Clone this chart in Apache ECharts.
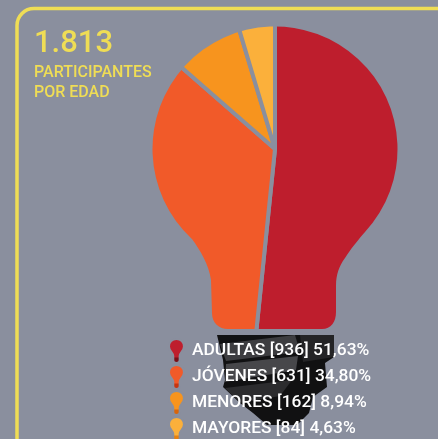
<!DOCTYPE html>
<html><head><meta charset="utf-8">
<style>html,body{margin:0;padding:0;background:#8A8F9E}#c{width:438px;height:439px}</style>
<script src="https://cdn.jsdelivr.net/npm/echarts@6/dist/echarts.min.js"></script>
</head><body><div id="c"></div>
<script>
const categories = ['ADULTAS','JÓVENES','MENORES','MAYORES'];
const counts = [936,631,162,84];
const percents = ['51,63%','34,80%','8,94%','4,63%'];
const colors = ['#BE1E2D','#F15A29','#F7941E','#FBB03B'];
const baseColors = ['#7A0F18','#C8340E','#D9650A','#E8820F'];
const totalLabel = '1.813';
const subtitleLines = ['PARTICIPANTES','POR EDAD'];
const BG = '#8A8F9E', YELLOW = '#EFDD55';
const FONT = 'Roboto';

const chart = echarts.init(document.getElementById('c'), null, {renderer:'canvas'});
const bulbIcon = 'path://M7 0C3 0 0 3 0 7C0 9.5 1.2 11 2.5 12.5C3.6 13.8 4 14.8 4 16L4 20C4 21.8 5.6 22.5 7 22.5C8.4 22.5 10 21.8 10 20L10 16C10 14.8 10.4 13.8 11.5 12.5C12.8 11 14 9.5 14 7C14 3 11 0 7 0Z';
const bulbHole = 'M0 0H438V439H0Z M365 232A122.5 122.5 0 1 0 192 239C200 250 209 265 211 280L212 313C212 323 219 329 228 329L322 329C331 329 336 322 336 312L336 285C336 275 339 266 345 258C350 250 358 240 365 232Z';
const poly = (pts, fill, z) => ({type:'polygon', silent:true, z, shape:{points:pts}, style:{fill}});

chart.setOption({
  animation:false,
  backgroundColor:BG,
  legend:{
    orient:'vertical', left:168, top:338, height:110, padding:0, z:10,
    itemWidth:15, itemHeight:24, itemGap:0, selectedMode:false, icon:bulbIcon,
    data:categories.map((name,i)=>({name, itemStyle:{color:{type:'linear',x:0,y:0,x2:0,y2:1,colorStops:[
      {offset:0,color:colors[i]},{offset:.74,color:colors[i]},{offset:.76,color:baseColors[i]},{offset:1,color:baseColors[i]}]}}})),
    formatter:name=>{const i=categories.indexOf(name);return `${name} [${counts[i]}] ${percents[i]}`;},
    textStyle:{color:'#FFFFFF',fontFamily:FONT,fontWeight:500,fontSize:17.4,lineHeight:18,padding:[0,0,3,3]}
  },
  series:[{
    type:'pie', z:2, center:[275,149], radius:[0,195], startAngle:90, clockwise:true, silent:true,
    label:{show:false}, labelLine:{show:false},
    itemStyle:{borderColor:BG,borderWidth:4},
    emphasis:{disabled:true},
    data:categories.map((name,i)=>({name,value:counts[i],itemStyle:{color:colors[i]}}))
  },{
    type:'custom', z:3, coordinateSystem:'none', silent:true, clip:false, data:[0],
    renderItem:()=>({type:'path', shape:{pathData:bulbHole,x:0,y:0,width:438,height:439,layout:'cover'}, style:{fill:BG}})
  }],
  graphic:{elements:[
    {type:'rect', silent:true, z:4, shape:{x:17,y:8.5,width:460,height:470,r:17}, style:{fill:'none',stroke:YELLOW,lineWidth:3.5}},
    poly([[217,335],[334,335],[334,357],[325,363],[327,387],[313,397],[309,413],[297,425],[267,425],[253,413],[240,403],[223,387],[225,380],[223,360]],'#111112',5),
    poly([[220,344],[295,335],[300,352],[226,361]],'#3D3D40',5),
    poly([[226,364],[298,356],[296,370],[225,382]],'#47474A',5),
    poly([[225,388],[292,380],[280,396],[240,403]],'#2C2C2E',5),
    poly([[300,335],[334,335],[334,357],[303,362]],'#242426',5),
    {type:'text', silent:true, z:10, style:{text:totalLabel,x:34,y:29,fill:YELLOW,font:`500 31px ${FONT}`}},
    {type:'text', silent:true, z:10, style:{text:subtitleLines[0],x:34,y:65,fill:YELLOW,font:`500 16px ${FONT}`}},
    {type:'text', silent:true, z:10, style:{text:subtitleLines[1],x:34,y:85,fill:YELLOW,font:`500 16px ${FONT}`}}
  ]}
});
</script></body></html>
